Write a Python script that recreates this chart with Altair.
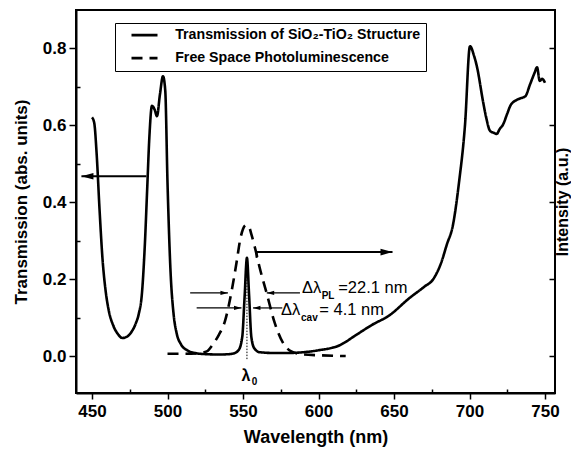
import altair as alt
import pandas as pd

# ---------------- data ----------------
trans_wl = [450, 451.5, 453, 455, 457, 459, 461, 464, 467, 470, 473, 476, 479, 481, 483,
            485, 486.5, 488, 489.7, 491.5, 493, 495, 497, 498.5, 500, 502, 504, 506, 509,
            513, 518, 525, 535, 543, 547, 549.5, 551, 552.6, 554, 555.5, 557.5, 561, 570,
            580, 590, 600, 614, 625, 635, 647, 660, 670, 676, 681, 685, 689, 693, 697,
            700.3, 703, 705, 709, 711, 713.6, 716, 718, 720, 722, 725, 727, 731, 734, 737,
            740, 743, 744.7, 746.5, 748, 750]
trans_val = [0.62, 0.605, 0.53, 0.38, 0.25, 0.17, 0.12, 0.08, 0.058, 0.047, 0.05, 0.062, 0.085, 0.11, 0.16,
             0.29, 0.43, 0.57, 0.65, 0.64, 0.623, 0.68, 0.727, 0.69, 0.45, 0.22, 0.11, 0.06, 0.03,
             0.015, 0.008, 0.005, 0.004, 0.006, 0.015, 0.05, 0.15, 0.255, 0.16, 0.05, 0.02, 0.01, 0.008,
             0.008, 0.01, 0.015, 0.028, 0.055, 0.08, 0.106, 0.15, 0.18, 0.2, 0.24, 0.29, 0.34, 0.45, 0.6,
             0.805, 0.78, 0.75, 0.66, 0.62, 0.585, 0.58, 0.577, 0.59, 0.6, 0.63, 0.65, 0.665, 0.67, 0.675,
             0.705, 0.735, 0.75, 0.715, 0.72, 0.71]

pl_wl = [500, 510, 520, 526, 530, 534, 538, 542.5, 546, 548, 550, 552, 554, 555.7, 558,
         561, 565.6, 571, 576.5, 582, 590, 600, 618]
pl_val = [0.006, 0.006, 0.007, 0.012, 0.03, 0.055, 0.09, 0.17, 0.25, 0.3, 0.33, 0.34, 0.335, 0.314, 0.28,
          0.23, 0.164, 0.086, 0.034, 0.012, 0.004, 0.002, 0.0]

series_names = ["Transmission of SiO\u2082-TiO\u2082 Structure", "Free Space Photoluminescence"]

x_ticks = [450, 500, 550, 600, 650, 700, 750]
x_minor = [475, 525, 575, 625, 675, 725]
y_ticks = [0.0, 0.2, 0.4, 0.6, 0.8]
y_minor = [0.1, 0.3, 0.5, 0.7]

# arrows: y, start x, tip x
big_arrow_y = [0.467, 0.27]
big_arrow_from = [486, 559]
big_arrow_to = [443, 649]
small_arrow_y = [0.164, 0.164, 0.125, 0.125]
small_arrow_from = [515, 587.7, 519.3, 576]
small_arrow_to = [540, 565.7, 549, 556.6]
hook_x = [559]
hook_y1 = [0.255]
hook_y2 = [0.27]
lambda0_x = [552.6]
lambda0_y1 = [-0.008]
lambda0_y2 = [0.25]

reg_text = ["\u0394\u03bb", "=22.1 nm", "\u0394\u03bb", "= 4.1 nm"]
reg_text_x = [589, 613, 575.2, 600.5]
reg_text_y = [0.177, 0.177, 0.12, 0.12]
sub_text = ["PL", "cav", "0"]
sub_text_x = [602.1, 588.4, 555.8]
sub_text_y = [0.156, 0.098, -0.068]
lam_text = ["\u03bb"]
lam_text_x = [552]
lam_text_y = [-0.052]

# ---------------- build tables ----------------
df = pd.concat([
    pd.DataFrame({"wl": trans_wl, "val": trans_val, "series": series_names[0]}),
    pd.DataFrame({"wl": pl_wl, "val": pl_val, "series": series_names[1]}),
], ignore_index=True)

big = pd.DataFrame({"y": big_arrow_y, "x1": big_arrow_from, "x2": big_arrow_to})
big["dir"] = ["right" if b > a else "left" for a, b in zip(big["x1"], big["x2"])]
small = pd.DataFrame({"y": small_arrow_y, "x1": small_arrow_from, "x2": small_arrow_to})
small["dir"] = ["right" if b > a else "left" for a, b in zip(small["x1"], small["x2"])]
hook = pd.DataFrame({"x": hook_x, "y1": hook_y1, "y2": hook_y2})
l0 = pd.DataFrame({"x": lambda0_x, "y1": lambda0_y1, "y2": lambda0_y2})
reg = pd.DataFrame({"t": reg_text, "x": reg_text_x, "y": reg_text_y})
sub = pd.DataFrame({"t": sub_text, "x": sub_text_x, "y": sub_text_y})
lam = pd.DataFrame({"t": lam_text, "x": lam_text_x, "y": lam_text_y})

FONT = "Liberation Sans"
xs = alt.Scale(domain=[439.4, 756.6], nice=False, zero=False)
ys = alt.Scale(domain=[-0.096, 0.899], nice=False, zero=False)

RIGHT_HEAD = "M0,0L-2,-0.55L-2,0.55Z"
LEFT_HEAD = "M0,0L2,-0.55L2,0.55Z"
LEGEND_STROKE = "M2.2,0H15.2"

lines = alt.Chart(df).mark_line(strokeWidth=2.6, color="black", interpolate="monotone").encode(
    x=alt.X("wl:Q", scale=xs, axis=alt.Axis(
        orient="bottom", values=x_ticks, title="Wavelength (nm)", grid=False,
        labelFont=FONT, labelFontSize=17, labelFontWeight="bold", labelColor="black",
        labelPadding=4, tickSize=6, tickWidth=1.5, tickColor="black",
        domainColor="black", domainWidth=2,
        titleFont=FONT, titleFontSize=18, titleFontWeight="bold", titleColor="black",
        titlePadding=9)),
    y=alt.Y("val:Q", scale=ys, axis=alt.Axis(
        orient="left", values=y_ticks, format=".1f", title="Transmission (abs. units)", grid=False,
        labelFont=FONT, labelFontSize=17, labelFontWeight="bold", labelColor="black",
        labelPadding=3, tickSize=7, tickWidth=1.5, tickColor="black",
        domainColor="black", domainWidth=2,
        titleFont=FONT, titleFontSize=17, titleFontWeight="bold", titleColor="black",
        titlePadding=12)),
    strokeDash=alt.StrokeDash("series:N", scale=alt.Scale(domain=series_names, range=[[1, 0], [11, 7]]),
                              legend=alt.Legend(
                                  title=None, orient="none", legendX=39, legendY=13,
                                  fillColor="white", strokeColor="black", padding=5,
                                  labelFont=FONT, labelFontSize=14.2, labelFontWeight="bold",
                                  labelColor="black", labelLimit=400, labelOffset=41,
                                  symbolType=LEGEND_STROKE, symbolSize=16, symbolStrokeWidth=2.6,
                                  symbolStrokeColor="black", symbolFillColor="transparent",
                                  rowPadding=8)),
)

minor = alt.Chart(df).mark_point(opacity=0).encode(
    x=alt.X("wl:Q", scale=xs, axis=alt.Axis(
        orient="bottom", values=x_minor, labels=False, domain=False, grid=False, title=None,
        tickSize=4, tickWidth=1.5, tickColor="black", offset=-4)),
    y=alt.Y("val:Q", scale=ys, axis=alt.Axis(
        orient="left", values=y_minor, labels=False, domain=False, grid=False, title=None,
        tickSize=4, tickWidth=1.5, tickColor="black", offset=-4)),
)

right = alt.Chart(df).mark_point(opacity=0).encode(
    x=alt.X("wl:Q", scale=xs, axis=None),
    y=alt.Y("val:Q", scale=ys, axis=alt.Axis(
        orient="right", values=y_ticks, labels=False, domain=False, grid=False,
        title="Intensity (a.u.)", tickSize=6, tickWidth=1.5, tickColor="black", offset=-6,
        titleFont=FONT, titleFontSize=16, titleFontWeight="bold", titleColor="black",
        titleAngle=270, titlePadding=15)),
)

def X(f):
    return alt.X(f, type="quantitative", scale=xs, axis=None)

def Y(f):
    return alt.Y(f, type="quantitative", scale=ys, axis=None)

big_lines = alt.Chart(big).mark_rule(strokeWidth=2, color="black").encode(x=X("x1"), x2="x2", y=Y("y"))
big_heads_r = alt.Chart(big).transform_filter("datum.dir == 'right'").mark_point(
    shape=RIGHT_HEAD, size=144, filled=True, color="black", opacity=1).encode(x=X("x2"), y=Y("y"))
big_heads_l = alt.Chart(big).transform_filter("datum.dir == 'left'").mark_point(
    shape=LEFT_HEAD, size=144, filled=True, color="black", opacity=1).encode(x=X("x2"), y=Y("y"))
small_lines = alt.Chart(small).mark_rule(strokeWidth=1.2, color="black").encode(x=X("x1"), x2="x2", y=Y("y"))
small_heads_r = alt.Chart(small).transform_filter("datum.dir == 'right'").mark_point(
    shape=RIGHT_HEAD, size=56, filled=True, color="black", opacity=1).encode(x=X("x2"), y=Y("y"))
small_heads_l = alt.Chart(small).transform_filter("datum.dir == 'left'").mark_point(
    shape=LEFT_HEAD, size=56, filled=True, color="black", opacity=1).encode(x=X("x2"), y=Y("y"))
hook_rule = alt.Chart(hook).mark_rule(strokeWidth=2, color="black").encode(x=X("x"), y=Y("y1"), y2="y2")
l0_rule = alt.Chart(l0).mark_rule(strokeWidth=1, color="black", strokeDash=[1.5, 1.5]).encode(
    x=X("x"), y=Y("y1"), y2="y2")

reg_txt = alt.Chart(reg).mark_text(font=FONT, fontSize=16.5, align="left", baseline="middle",
                                   color="black").encode(x=X("x"), y=Y("y"), text="t:N")
sub_txt = alt.Chart(sub).mark_text(font=FONT, fontSize=10, fontWeight="bold", align="left",
                                   baseline="middle", color="black").encode(x=X("x"), y=Y("y"), text="t:N")
lam_txt = alt.Chart(lam).mark_text(font=FONT, fontSize=16, fontWeight="bold", align="center",
                                   baseline="middle", color="black").encode(x=X("x"), y=Y("y"), text="t:N")

chart = alt.layer(
    lines, minor, right, l0_rule, big_lines, big_heads_r, big_heads_l, hook_rule,
    small_lines, small_heads_r, small_heads_l, reg_txt, sub_txt, lam_txt
).resolve_axis(x="independent", y="independent").properties(
    width=479, height=383,
    autosize=alt.AutoSizeParams(type="none"),
    padding={"left": 68, "top": 2, "right": 16, "bottom": 58},
    background="white",
).configure_view(stroke="black", strokeWidth=2)

chart.save("out.html", embed_options={"renderer": "svg", "actions": False})
